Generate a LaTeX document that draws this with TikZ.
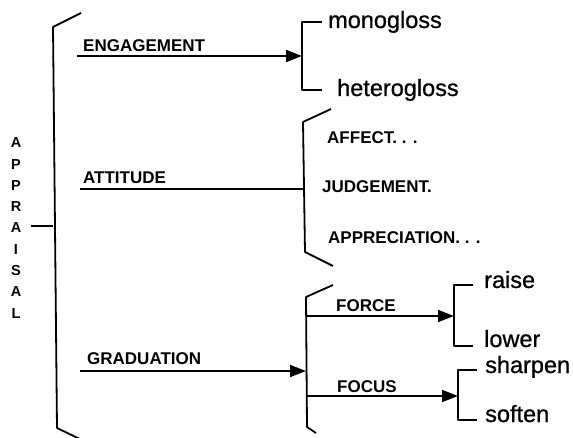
\documentclass[tikz,border=0pt]{standalone}
\usepackage{fontspec}
\setmainfont{Liberation Sans}
\newfontfamily\lowf{Liberation Sans}[FakeBold=0.8]
\usetikzlibrary{arrows.meta}
\begin{document}
\begin{tikzpicture}[x=1pt,y=-1pt,
  ln/.style={line width=1.8pt, line join=round},
  arr/.style={ln,-{Triangle[length=16pt,width=12pt]}},
  capl/.style={font=\fontsize{17}{17}\selectfont\bfseries, anchor=base west, inner sep=0pt},
  lowl/.style={font=\fontsize{23.5}{23.5}\selectfont\lowf, anchor=base west, inner sep=0pt},
]
\useasboundingbox (0,0) rectangle (573,438);

% APPRAISAL
\node (appr) at (16,228) [font=\fontsize{14.5}{21.3}\selectfont\bfseries, align=center, inner sep=0pt]
  {A\\P\\P\\R\\A\\I\\S\\A\\L};
\coordinate (mtick) at (53,226);
\draw[ln] (appr.east |- mtick) ++(10,0) -- (mtick);

% main bracket
\coordinate (mtop) at (53,27);
\coordinate (mbot) at (57,428);
\draw[ln] (81,13) -- (mtop) -- (mbot) -- (84,441);

% ENGAGEMENT
\node[capl] (engl) at (83,52) {ENGAGEMENT};
\coordinate (eng0) at (77,56);
\coordinate (engb) at (302,56);
\draw[arr] (eng0) -- (engb);
\draw[ln] (322,22) -- (302,22) -- (302,90) -- (322,90);
\node[lowl] (mono) at (328,28) {monogloss};
\node[lowl] (hetero) at (337,96) {heterogloss};

% ATTITUDE
\node[capl] (attl) at (83,184) {ATTITUDE};
\coordinate (att0) at (80,189);
\coordinate (attb) at (303,189);
\draw[ln] (att0) -- (attb);
\draw[ln] (331,109) -- (303,122) -- (305,252) -- (333,266);
\node[capl] (affect) at (327,144) {AFFECT. . .};
\node[capl] (judge) at (322,193) {JUDGEMENT.};
\node[capl] (apprec) at (328,244) {APPRECIATION. . .};

% GRADUATION
\node[capl] (gradl) at (87,364) {GRADUATION};
\coordinate (grad0) at (80,371);
\coordinate (gradb) at (306,371);
\draw[arr] (grad0) -- (gradb);
\draw[ln] (333,285) -- (306,297) -- (307,427) -- (316,433);

% FORCE
\node[capl] (forcel) at (336,312) {FORCE};
\coordinate (force0) at (307,316);
\coordinate (forceb) at (454,316);
\draw[arr] (force0) -- (forceb);
\draw[ln] (473,285) -- (454,285) -- (454,346) -- (473,346);
\node[lowl] (raise) at (484,288) {raise};
\node[lowl] (lower) at (484,347) {lower};

% FOCUS
\node[capl] (focusl) at (337,392) {FOCUS};
\coordinate (focus0) at (307,396);
\coordinate (focusb) at (458,396);
\draw[arr] (focus0) -- (focusb);
\draw[ln] (477,370) -- (458,370) -- (458,420) -- (477,420);
\node[lowl] (sharpen) at (485,373) {sharpen};
\node[lowl] (soften) at (485,422) {soften};
\end{tikzpicture}
\end{document}
